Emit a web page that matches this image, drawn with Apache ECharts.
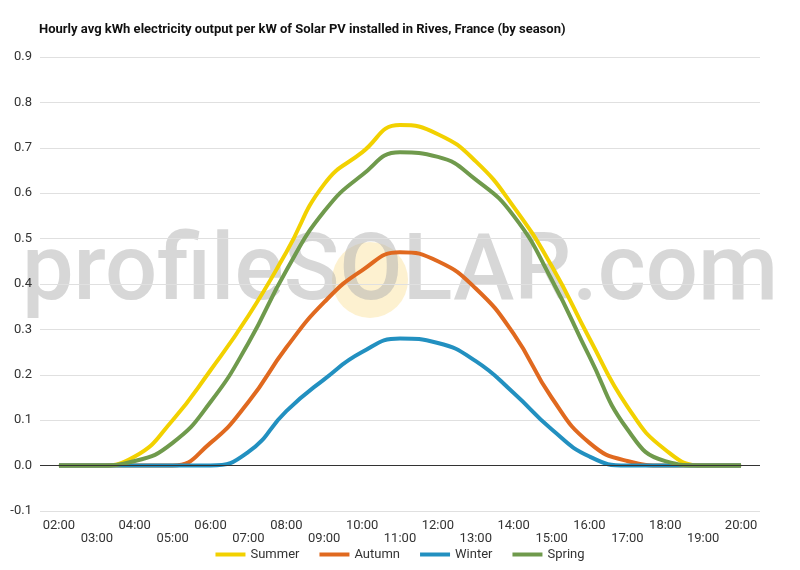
<!DOCTYPE html>
<html><head><meta charset="utf-8">
<script src="https://cdn.jsdelivr.net/npm/echarts@6/dist/echarts.min.js"></script>
<style>body{margin:0}#c{width:800px;height:570px}</style></head>
<body><div id="c"></div>
<script>
var hours = ['02:00','03:00','04:00','05:00','06:00','07:00','08:00','09:00','10:00','11:00','12:00','13:00','14:00','15:00','16:00','17:00','18:00','19:00','20:00'];
var summer = [0, 0, 0.02, 0.1, 0.21, 0.33, 0.47, 0.62, 0.69, 0.75, 0.73, 0.67, 0.57, 0.44, 0.28, 0.13, 0.035, 0, 0];
var autumn = [0, 0, 0, 0, 0.05, 0.14, 0.26, 0.36, 0.43, 0.47, 0.45, 0.39, 0.29, 0.15, 0.05, 0.01, 0, 0, 0];
var winter = [0, 0, 0, 0, 0, 0.03, 0.12, 0.19, 0.25, 0.28, 0.27, 0.23, 0.16, 0.08, 0.02, 0, 0, 0, 0];
var spring = [0, 0, 0.01, 0.05, 0.14, 0.27, 0.43, 0.56, 0.64, 0.69, 0.68, 0.63, 0.55, 0.41, 0.24, 0.08, 0.01, 0, 0];

var myChart = echarts.init(document.getElementById('c'));
function line(name, data, color) {
    return {name: name, type: 'line', smooth: 0.5, symbol: 'none', data: data,
            lineStyle: {width: 4, color: color}, itemStyle: {color: color}};
}
option = {
    textStyle: {fontFamily: 'Roboto'},
    title: {text: 'Hourly avg kWh electricity output per kW of Solar PV installed in Rives, France (by season)',
            left: 34, top: 18, textStyle: {fontSize: 13, fontWeight: 'bold', color: '#111'}},
    graphic: [
        {type: 'circle', shape: {cx: 370, cy: 280, r: 38}, style: {fill: 'rgba(250,215,120,0.35)'}, z: 0},
        {type: 'text', left: 'center', top: 230, z: 0,
         style: {text: 'profileSOLAR.com', fontSize: 92, fontWeight: 500, fontFamily: 'Roboto', fill: 'rgba(175,175,175,0.5)'}}
    ],
    legend: {bottom: 4, itemWidth: 30, itemHeight: 4, icon: 'rect', itemGap: 20,
             textStyle: {fontSize: 13, color: '#333'}, data: ['Summer', 'Autumn', 'Winter', 'Spring']},
    grid: {left: 40, right: 40, top: 57, bottom: 59},
    xAxis: {type: 'category', data: hours, boundaryGap: true,
            axisTick: {show: false}, axisLine: {show: false},
            axisLabel: {interval: 0, fontSize: 13, color: '#333',
                        formatter: function(v, i) { return i % 2 ? '\n' + v : v; }}},
    yAxis: {type: 'value', min: -0.1, max: 0.9, interval: 0.1,
            axisLabel: {fontSize: 13, color: '#333', formatter: function(v) { return v.toFixed(1); }},
            splitLine: {lineStyle: {color: '#e0e0e0'}}},
    series: [
        line('Summer', summer, '#f2d100'),
        line('Autumn', autumn, '#e0691f'),
        line('Winter', winter, '#2290c0'),
        line('Spring', spring, '#6f9a4c')
    ]
};
option.series[0].markLine = {silent: true, symbol: 'none', label: {show: false},
    lineStyle: {color: '#333', type: 'solid', width: 1}, data: [{yAxis: 0}]};
myChart.setOption(option);
</script></body></html>
